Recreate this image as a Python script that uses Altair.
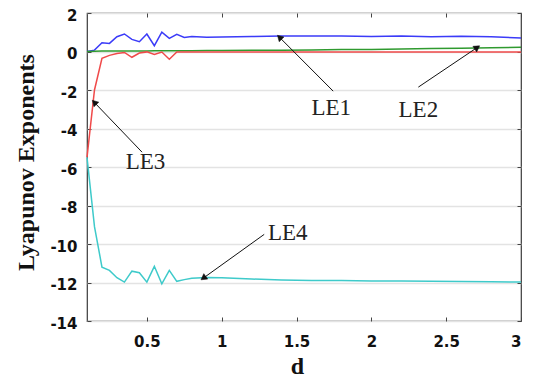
import altair as alt
import pandas as pd

# Bifurcation parameter d
d_vals = [0.10, 0.15, 0.20, 0.25, 0.30, 0.35, 0.40, 0.45, 0.50, 0.55, 0.60, 0.65, 0.70, 0.75,
          0.80, 0.90, 1.00, 1.20, 1.40, 1.60, 1.80, 2.00, 2.20, 2.40, 2.60, 2.80, 3.00]

# Lyapunov exponents
le1 = [0.00, 0.07, 0.45, 0.42, 0.77, 0.91, 0.63, 0.51, 0.91, 0.30, 1.00, 0.68, 0.89, 0.73,
       0.78, 0.74, 0.75, 0.78, 0.80, 0.80, 0.80, 0.78, 0.80, 0.77, 0.79, 0.76, 0.70]
le2 = [0.00, 0.01, 0.02, 0.02, 0.03, 0.03, 0.03, 0.03, 0.03, 0.04, 0.04, 0.04, 0.04, 0.04,
       0.04, 0.05, 0.05, 0.06, 0.07, 0.08, 0.10, 0.11, 0.13, 0.15, 0.17, 0.19, 0.22]
le3 = [-5.50, -2.00, -0.35, -0.20, -0.10, -0.05, -0.30, -0.08, -0.02, -0.15, -0.03, -0.40, -0.03, -0.03,
       -0.03, -0.03, -0.03, -0.03, -0.03, -0.03, -0.03, -0.02, -0.02, -0.02, -0.02, -0.02, -0.02]
le4 = [-5.50, -9.10, -11.20, -11.37, -11.75, -11.98, -11.41, -11.49, -11.98, -11.16, -12.07, -11.37, -11.94, -11.85,
       -11.78, -11.74, -11.75, -11.82, -11.87, -11.90, -11.90, -11.92, -11.92, -11.93, -11.95, -11.96, -11.98]

series_names = ["LE1", "LE2", "LE3", "LE4"]
series_colors = ["#3b3bf8", "#2f9a2f", "#f04a4a", "#3ecaca"]

x_ticks = [0.5, 1, 1.5, 2, 2.5, 3]
y_ticks = [-14, -12, -10, -8, -6, -4, -2, 0, 2]

# Annotation labels and their arrows (tail -> head, in data units)
label_text = ["LE1", "LE2", "LE3", "LE4"]
label_d = [1.732, 2.314, 0.491, 1.441]
label_v = [-3.31, -3.41, -6.12, -9.81]
arrow_d0 = [1.745, 2.314, 0.468, 1.284]
arrow_v0 = [-2.06, -1.85, -5.23, -9.50]
arrow_d1 = [1.391, 2.702, 0.1535, 0.883]
arrow_v1 = [0.70, 0.18, -2.68, -11.74]
arrow_angle = [315, 56, 316, 234]

rows = []
for name, vals in zip(series_names, [le1, le2, le3, le4]):
    for d, v in zip(d_vals, vals):
        rows.append({"d": d, "value": v, "series": name})
lines_df = pd.DataFrame(rows)

labels_df = pd.DataFrame({"text": label_text, "d": label_d, "v": label_v})
arrows_df = pd.DataFrame({"d0": arrow_d0, "v0": arrow_v0, "d1": arrow_d1, "v1": arrow_v1,
                          "angle": arrow_angle})

x_scale = alt.Scale(domain=[0.1, 3], nice=False, zero=False)
y_scale = alt.Scale(domain=[-14, 2], nice=False, zero=False)
color_scale = alt.Scale(domain=series_names, range=series_colors)

tick_font = "DejaVu Sans"
minus_expr = "datum.value < 0 ? '-' + abs(datum.value) : '' + datum.value"

x_bottom = alt.Axis(orient="bottom", values=x_ticks, format="~g", offset=-4, tickSize=4,
                    tickColor="#444", domain=False, grid=False, labelFont=tick_font,
                    labelFontSize=15, labelFontWeight="bold", labelColor="#111",
                    labelPadding=13, title="d", titleFont="Liberation Serif",
                    titleFontSize=24, titleFontWeight="bold", titleColor="#111",
                    titleX=210, titleY=56, titleBaseline="alphabetic", titleAlign="center")
y_left = alt.Axis(orient="left", values=y_ticks, labelExpr=minus_expr, offset=-4, tickSize=4,
                  tickColor="#444", domain=False, grid=True, gridColor="#e3e3e3", gridWidth=1.6,
                  labelFont=tick_font, labelFontSize=15, labelFontWeight="bold",
                  labelColor="#111", labelPadding=10, labelOffset=2, title="Lyapunov Exponents",
                  titleFont="Liberation Serif", titleFontSize=24, titleFontWeight="bold",
                  titleColor="#111", titleX=-58, titleY=149, titleAngle=270,
                  titleBaseline="alphabetic", titleAlign="center")
x_top = alt.Axis(orient="top", values=x_ticks, offset=-4, tickSize=4, tickColor="#444",
                 domain=False, grid=False, labels=False, title=None)
y_right = alt.Axis(orient="right", values=y_ticks, offset=-4, tickSize=4, tickColor="#444",
                   domain=False, grid=False, labels=False, title=None)

lines = alt.Chart(lines_df).mark_line(strokeWidth=1.5).encode(
    x=alt.X("d:Q", scale=x_scale, axis=x_bottom),
    y=alt.Y("value:Q", scale=y_scale, axis=y_left),
    color=alt.Color("series:N", scale=color_scale, legend=None),
    detail="series:N",
)

frame_ticks = alt.Chart(lines_df).mark_line(opacity=0).encode(
    x=alt.X("d:Q", scale=x_scale, axis=x_top),
    y=alt.Y("value:Q", scale=y_scale, axis=y_right),
    detail="series:N",
)

arrow_lines = alt.Chart(arrows_df).mark_rule(color="#111", strokeWidth=1).encode(
    x=alt.X("d0:Q", scale=x_scale, axis=None),
    y=alt.Y("v0:Q", scale=y_scale, axis=None),
    x2="d1:Q",
    y2="v1:Q",
)

arrow_heads = alt.Chart(arrows_df).mark_point(shape="triangle", filled=True, size=45,
                                              fill="#111", stroke="#111", strokeWidth=0.5,
                                              opacity=1).encode(
    x=alt.X("d1:Q", scale=x_scale, axis=None),
    y=alt.Y("v1:Q", scale=y_scale, axis=None),
    angle=alt.Angle("angle:Q", scale=None),
)

labels = alt.Chart(labels_df).mark_text(font="Liberation Serif", fontSize=23, color="#222",
                                        align="center", baseline="alphabetic").encode(
    x=alt.X("d:Q", scale=x_scale, axis=None),
    y=alt.Y("v:Q", scale=y_scale, axis=None),
    text="text:N",
)

chart = alt.layer(lines, frame_ticks, arrow_lines, arrow_heads, labels).resolve_axis(
    x="independent", y="independent"
).properties(
    width=434,
    height=308,
    autosize=alt.AutoSizeParams(type="none"),
    padding={"left": 87, "top": 13, "right": 12, "bottom": 57},
    background="white",
).configure_view(stroke="#3a3a3a", strokeWidth=1.2)

chart.save("out.html", embed_options={"renderer": "svg", "actions": False})
